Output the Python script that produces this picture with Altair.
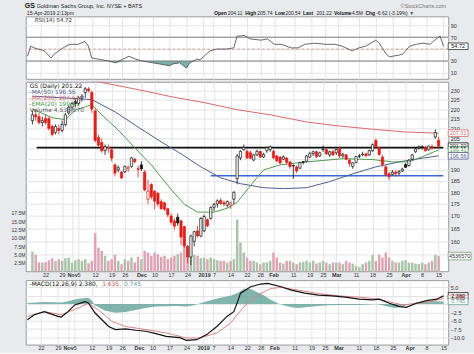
import altair as alt
import pandas as pd

FONT = "DejaVu Sans"
AFONT = "Liberation Sans"
W = 426
H_RSI, H_PRICE, H_MACD = 63, 191, 65

# ---------------- x axis (trading-day index) ----------------
tick_idx = [4, 9, 12, 14, 19, 24, 28, 33, 37, 42, 47, 52, 55, 60, 65, 69, 73, 79, 84, 88, 92, 98, 103, 108, 113, 118, 123]
tick_lbl = ["22", "29", "Nov", "5", "12", "19", "26", "Dec", "10", "17", "24", "2019", "7", "14", "22", "28",
            "Feb", "11", "19", "25", "Mar", "11", "18", "25", "Apr", "8", "15"]
bold_idx = [12, 33, 52, 73, 92, 113]

# ---------------- daily OHLC ----------------
opens = [214, 217, 216, 213, 215, 215, 211, 208, 210, 209,
         212, 218, 221, 224, 223, 226, 229, 231, 229, 219,
         205.5, 203, 199, 200, 199.5, 192.3, 190, 189, 189.2, 190.5,
         191.6, 195, 190.5, 192.3, 189, 177, 183.4, 180.4, 179.6, 176,
         175.5, 173, 170, 168, 169.5, 168, 165.7, 158, 154, 159.9,
         164, 162, 164, 168.5, 169, 173.6, 175, 176.5, 175.5, 174.5,
         174.5, 177, 186, 195.6, 199.5, 198.7, 198, 194.6, 197, 198.7,
         196, 199, 199.5, 198.7, 196.5, 196, 195, 195.5, 193.7, 192,
         191.4, 190.8, 193.8, 194, 196, 197.6, 198.5, 196.5, 199.5, 199.5,
         197, 198.5, 198, 200, 196.5, 197, 194.5, 191.5, 193.5, 196.5,
         197, 197.5, 197, 199, 204, 200.5, 196, 191.4, 188.2, 188,
         189, 188.5, 189.5, 192.5, 192, 195, 198.5, 200.5, 200.8, 200.5,
         199.5, 201, 205.7, 204.11]
highs = [219, 220, 218, 216, 217, 216, 212, 212, 212, 214,
         218, 222, 224, 226, 227, 228, 232, 232, 230, 220,
         207, 205, 202, 202, 200, 193, 192, 189.5, 192, 192,
         196, 195.5, 192, 194, 190, 185.5, 184, 181, 180, 177,
         176, 173.5, 171, 169, 171, 168.5, 166, 158.5, 162.5, 164,
         166, 169.5, 170.5, 169, 174, 175.5, 177, 177.5, 176.5, 176.5,
         176, 180.5, 197.5, 199.2, 202, 199.5, 199, 197.5, 199.5, 199,
         198, 201, 201.5, 199.5, 197, 196.5, 196.8, 196, 194, 192.5,
         192, 193.8, 194, 197, 198.5, 199, 199, 198.5, 201.5, 200.5,
         199, 199.5, 200, 201, 198, 197.5, 195, 193.5, 196.5, 197.5,
         198.5, 198, 199.5, 202.5, 205, 201, 197, 192, 189, 190,
         190, 190, 191, 193, 195, 197.5, 200.5, 201.5, 201.5, 201,
         201.5, 202, 209.5, 205.74]
lows = [212, 214, 212, 211, 212, 209, 206, 207, 207, 208,
        211, 217, 219, 221, 222, 224, 226, 229, 218, 203,
        201, 198, 197, 198, 194, 187, 189, 186, 188.5, 189,
        191, 193, 186.5, 189.5, 180.5, 175, 177, 172.8, 174, 172.5,
        172, 169.5, 166.5, 164.5, 166, 158.5, 157.5, 151.6, 151, 158,
        161.5, 161.5, 163.5, 165.5, 168.5, 172, 173.5, 174.5, 174, 173.5,
        173, 175, 183.5, 194.5, 199, 195, 195, 194, 196.5, 195.5,
        195.5, 198, 198.5, 195, 193.5, 192.5, 194.5, 192.5, 190.5, 186,
        188.5, 190.5, 192.5, 193.5, 195.5, 196.5, 195.5, 196, 198.5, 197,
        196, 196.5, 197, 195.5, 195.5, 194.5, 191.5, 190.5, 193, 195.5,
        196.5, 196, 196.5, 198.5, 200.5, 196.5, 191.5, 187.5, 185.3, 187.5,
        187, 187.5, 189, 190.8, 191.5, 194.5, 198, 199.5, 199.5, 198.5,
        199, 199.5, 204.8, 200.54]
closes = [217, 216, 213, 214, 213, 210, 207, 211, 209, 212,
          217, 221, 223, 223, 226, 227, 231, 230, 220, 204,
          201.7, 199, 201, 200.5, 195.4, 188.5, 191, 186.3, 191.6, 191.2,
          195.6, 193.8, 190.2, 190.5, 181, 180.5, 178, 176.2, 175, 173,
          172.8, 170.5, 167.5, 165.9, 167.2, 161.6, 158.2, 154, 162, 163.7,
          162, 169, 169.8, 166, 173.5, 174.8, 176.3, 175.2, 175, 176,
          175.5, 180, 196.5, 198.7, 200.6, 195.6, 195.4, 197, 198.7, 196,
          197.2, 200.5, 200.9, 195.6, 194.2, 193.2, 196.1, 193.5, 191.5, 191.8,
          189.5, 193.4, 193.5, 196.5, 197.6, 198.5, 196.2, 198, 199.7, 197.5,
          198.5, 197, 199.6, 196.5, 197.3, 195, 193, 193.2, 196.2, 196.4,
          197.3, 196.6, 199, 201.9, 201, 197.2, 192.5, 187.8, 186.9, 189,
          188.3, 189.2, 190.3, 191.2, 194.5, 197, 199.9, 200.9, 201.1, 199,
          201.2, 200.3, 207.84, 201.22]
volumes_m = [5.9, 4.9, 2.6, 2.6, 2.7, 3.3, 3.9, 3.1, 3.6, 3.1,
             3.9, 4.1, 2.6, 3.3, 3.6, 3.1, 3.6, 2.4, 3.1, 11.4,
             7.1, 6.1, 4.6, 3.1, 3.6, 4.9, 3.1, 2.1, 3.6, 3.1,
             4.1, 2.6, 4.3, 3.6, 6.1, 5.6, 4.6, 5.6, 5.1, 4.3,
             4.6, 3.6, 4.1, 4.6, 5.1, 5.6, 8.3, 4.6, 6.6, 4.9,
             4.6, 3.9, 4.1, 3.6, 4.1, 3.6, 3.3, 3.1, 3.1, 2.6,
             3.1, 3.6, 15.5, 8.6, 5.6, 4.1, 3.1, 3.1, 2.6, 2.1,
             2.6, 2.6, 3.1, 5.6, 4.1, 2.6, 2.3, 3.1, 3.1, 2.6,
             2.1, 2.6, 2.8, 3.1, 2.6, 3.1, 2.3, 2.6, 3.1, 2.6,
             2.1, 2.6, 2.6, 2.6, 2.1, 3.1, 2.6, 2.3, 1.6, 1.3,
             2.1, 2.6, 3.1, 4.9, 3.1, 4.9, 4.1, 5.6, 4.1, 3.1,
             2.6, 2.6, 3.1, 3.3, 2.6, 2.6, 2.3, 2.1, 2.6, 2.1,
             2.6, 3.1, 4.9, 4.54]

# ---------------- overlays ----------------
ma50_i = [0, 10, 18, 25, 32, 39, 45, 51, 57, 63, 70, 76, 83, 90, 97, 104, 111, 117, 123]
ma50_v = [227.0, 226.0, 225.1, 218.6, 210.7, 203.3, 197.5, 191.4, 186.4, 183.8, 182.0, 181.6, 182.0,
          184.7, 188.2, 191.4, 193.7, 195.2, 196.56]
ma200_i = [0, 10, 20, 32, 42, 52, 62, 72, 83, 93, 103, 113, 123]
ma200_v = [240.0, 237.5, 235.0, 230.6, 226.7, 223.5, 219.7, 217.0, 213.3, 211.2, 209.6, 208.2, 207.61]
ema20_i = [0, 6, 10, 13, 18, 21, 26, 31, 36, 42, 46, 50, 55, 59, 62, 67, 70, 75, 83, 94, 103, 109, 114, 118, 123]
ema20_v = [220.0, 215.5, 214.5, 219.5, 222.4, 217.0, 209.2, 200.4, 192.3, 181.2, 174.9, 171.6, 171.6, 173.2,
           175.7, 184.7, 190.0, 192.3, 193.7, 195.2, 194.8, 193.7, 193.7, 196.1, 199.41]
trend_start = [1.3, 54.0]
trend_price = [200.5, 187.3]

rsi_i = [0, 1, 2, 5, 7, 8, 10, 12, 13, 15, 17, 18, 19, 21, 24, 26, 30, 32, 34, 37, 39, 42, 43, 45, 47, 48,
         50, 51, 53, 54, 56, 59, 61, 62, 63, 64, 66, 69, 71, 73, 75, 78, 80, 82, 85, 88, 91, 93, 96, 98,
         100, 103, 104, 106, 107, 110, 111, 113, 115, 117, 119, 120, 122, 123]
rsi_v = [38, 55, 52, 47, 35, 42, 50, 57, 58, 58, 63, 55, 35, 33, 30, 27, 38, 33, 30, 27, 25, 22, 25, 27, 18, 27,
         33, 32, 42, 47, 50, 50, 52, 72, 72, 73, 67, 65, 67, 58, 58, 52, 52, 58, 60, 58, 58, 55, 47, 52,
         55, 65, 60, 42, 37, 40, 42, 55, 58, 60, 58, 63, 72, 54.72]

macd_i = [0, 2, 5, 9, 10, 12, 14, 17, 18, 20, 22, 24, 26, 29, 32, 35, 38, 41, 45, 47, 50, 53, 56, 59, 61, 62,
          63, 66, 69, 71, 75, 78, 82, 86, 90, 94, 98, 102, 104, 107, 110, 112, 115, 118, 121, 123]
macd_v = [-4.7, -3.2, -2.3, -3.7, -3.9, -2.3, -0.3, 0.7, 0.3, -2.7, -4.7, -6.7, -7.6, -7.4, -7.8, -8.1, -8.8,
          -9.6, -10.0, -10.8, -10.6, -9.1, -6.7, -3.7, -2.3, 0.3, 3.2, 5.1, 5.9, 6.1, 5.1, 4.1, 3.2, 2.6, 2.4,
          2.0, 1.4, 1.2, 1.4, 0.2, -0.8, -1.0, 0.2, 1.0, 1.4, 2.38]
sig_i = [0, 5, 10, 15, 18, 21, 25, 29, 35, 41, 47, 51, 56, 60, 64, 68, 72, 75, 80, 86, 92, 98, 104, 107, 111,
         115, 119, 123]
sig_v = [-3.7, -2.3, -3.2, -1.2, 0.2, -1.8, -5.2, -6.7, -7.6, -8.6, -10.1, -10.1, -8.6, -5.7, -0.8, 2.6, 4.6,
         4.9, 4.1, 3.1, 2.4, 2.0, 1.4, 0.6, -0.3, 0.2, 0.6, 1.635]
hist_i = [0, 5, 10, 12, 15, 18, 19, 20, 23, 26, 29, 32, 35, 38, 41, 44, 47, 49, 51, 54, 57, 60, 62, 64, 66, 68,
          70, 72, 74, 76, 78, 80, 83, 86, 89, 92, 95, 98, 101, 103, 105, 107, 109, 111, 113, 115, 118, 121, 123]
hist_v = [0.3, 0.6, 0.4, 0.8, 1.5, 1.8, 1.0, -0.5, -2.0, -2.6, -2.4, -1.8, -1.2, -0.8, -0.7, -0.6, -0.8, -0.5,
          0.2, 1.0, 1.8, 2.4, 3.2, 4.5, 4.4, 3.5, 2.5, 1.2, 0.2, -0.5, -1.0, -1.2, -0.9, -0.6, -0.4, -0.3,
          -0.3, -0.3, -0.2, 0.0, -0.4, -0.9, -1.2, -0.8, -0.1, 0.4, 0.7, 0.8, 0.745]

price_ticks = [155, 160, 165, 170, 175, 180, 185, 190, 195, 200, 205, 210, 215, 220, 225, 230]
price_hidden = [155, 195, 200]          # labels covered by the value boxes in the original
vol_ticks = [2.5, 5, 7.5, 10, 12.5, 15, 17.5]
rsi_ticks = [10, 30, 50, 70, 90]
rsi_hidden = [50]
macd_ticks = [5, 2.5, 0, -2.5, -5, -7.5, -10]
macd_hidden = [2.5, 0]

header_pairs = [("Open", "204.11"), ("High", "205.74"), ("Low", "200.54"), ("Last", "201.22"),
                ("Volume", "4.5M"), ("Chg", "-6.62 (-3.19%)")]

# ---------------- styles ----------------
RED = "#e0201b"
BLK = "#111111"
MA50_C = "#4f5b93"
MA200_C = "#d46a6a"
EMA_C = "#4f9a4f"
VOL_UP = "#a9c4a9"
VOL_DN = "#dea3b4"
TEAL = "#5f9f96"
SIG_C = "#d98585"
GRID = "#e4e4e4"
BOX = "M-1,-0.33L1,-0.33L1,0.33L-1,0.33Z"

prev = [closes[0]] + closes[:-1]
cdf = pd.DataFrame({"i": list(range(len(closes))), "o": opens, "h": highs, "l": lows,
                    "c": closes, "vol": volumes_m})
cdf["col"] = [RED if c < p else BLK for c, p in zip(closes, prev)]
cdf["fillc"] = ["#ffffff" if c > o else col for c, o, col in zip(closes, opens, cdf["col"])]
cdf["vcol"] = [VOL_DN if c < p else VOL_UP for c, p in zip(closes, prev)]

xs = alt.Scale(domain=[-0.5, 124.4], nice=False, zero=False)
lbl_expr = "[" + ",".join("'%s'" % t for t in tick_lbl) + "][indexof([" + ",".join(map(str, tick_idx)) + "], datum.value)]"
bold_expr = "indexof([" + ",".join(map(str, bold_idx)) + "], datum.value) >= 0 ? 'bold' : 'normal'"

X_LAB = alt.Axis(values=tick_idx, labelExpr=lbl_expr, labelFontWeight={"expr": bold_expr},
                 grid=True, gridColor=GRID, domain=False, ticks=False, labelPadding=1, minExtent=0,
                 labelFontSize=5.5, labelFont=AFONT, labelOverlap=False, labelFlush=False, title=None)
X_GRID = alt.Axis(values=tick_idx, labels=False, grid=True, gridColor=GRID, domain=False,
                  ticks=False, title=None, minExtent=0, maxExtent=0, labelPadding=0)


def right_axis(vals, hidden, fmt):
    expr = "indexof([" + ",".join(map(str, hidden)) + "], datum.value) >= 0 ? '' : format(datum.value, '" + fmt + "')"
    return alt.Axis(values=vals, orient="right", grid=True, gridColor=GRID, domain=False, ticks=False,
                    labelPadding=2, labelFontSize=5.5, labelFont=AFONT, title=None, labelExpr=expr,
                    labelOverlap=False, labelFlush=False)


def tw(s, size, bold=False):
    w = 0.0
    for ch in s:
        if ch.isdigit():
            w += 0.556
        elif ch in ".,: il":
            w += 0.278
        elif ch in "()-":
            w += 0.333
        elif ch == "%":
            w += 0.889
        elif ch in "MW":
            w += 0.86
        elif ch.isupper():
            w += 0.68
        else:
            w += 0.54
    return w * size * (1.08 if bold else 1.0)


def txt(s, x, y, color="#222222", size=6, weight="normal", align="left", font=FONT):
    return alt.Chart(pd.DataFrame({"t": [s]})).mark_text(
        align=align, baseline="middle", font=font, fontSize=size, fontWeight=weight, color=color
    ).encode(x=alt.value(x), y=alt.value(y), text="t:N")


def boxes(vals, labels, strokes, textcols, fills, yscale, yaxis, width=20):
    df = pd.DataFrame({"v": vals, "t": labels, "s": strokes, "tc": textcols, "f": fills})
    cx = W + width / 2
    rect = alt.Chart(df).mark_point(shape=BOX, size=width * width, filled=True, strokeWidth=0.8,
                                    opacity=1, fillOpacity=1).encode(
        x=alt.value(cx), y=alt.Y("v:Q", scale=yscale, axis=yaxis),
        fill=alt.Fill("f:N", scale=None), stroke=alt.Stroke("s:N", scale=None))
    lab = alt.Chart(df).mark_text(font=AFONT, fontSize=5.5, align="center", baseline="middle").encode(
        x=alt.value(cx), y=alt.Y("v:Q", scale=yscale, axis=yaxis), text="t:N",
        color=alt.Color("tc:N", scale=None))
    return [rect, lab]


# ---------------- RSI panel ----------------
ys_rsi = alt.Scale(domain=[0, 105], nice=False, zero=False)
Y_RSI = right_axis(rsi_ticks, rsi_hidden, "d")
rdf = pd.DataFrame({"i": rsi_i, "rsi": rsi_v})
rsi_fill = alt.Chart(rdf).transform_calculate(lo="min(datum.rsi, 30)").mark_area(
    color="#6fa9a1", opacity=0.9).encode(
    x=alt.X("i:Q", scale=xs, axis=X_GRID),
    y=alt.Y("lo:Q", scale=ys_rsi, axis=Y_RSI),
    y2=alt.datum(30))
rsi_lv = alt.Chart(pd.DataFrame({"lv": [70, 30]})).mark_rule(color="#808080", strokeWidth=1).encode(
    y=alt.Y("lv:Q", scale=ys_rsi, axis=Y_RSI))
rsi_mid = alt.Chart(pd.DataFrame({"lv": [50]})).mark_rule(color="#cf8f8f", strokeWidth=0.8,
                                                           strokeDash=[3, 2]).encode(
    y=alt.Y("lv:Q", scale=ys_rsi, axis=Y_RSI))
rsi_line = alt.Chart(rdf).mark_line(color="#555555", strokeWidth=0.9).encode(
    x=alt.X("i:Q", scale=xs, axis=X_GRID), y=alt.Y("rsi:Q", scale=ys_rsi, axis=Y_RSI))

HS = 5.0
header = [
    txt("GS", -1, -10, BLK, 7, "bold", font=AFONT),
    txt("Goldman Sachs Group, Inc.  NYSE + BATS", 11, -10, "#222222", 5.6, font=AFONT),
    txt("©StockCharts.com", 378, -10, "#777777", 5.5, font=AFONT),
    txt("15-Apr-2019 2:13pm", 1, -3, "#222222", 5.2, font=AFONT),
]
hx = 190.0
for lab, val in header_pairs:
    header.append(txt(lab, hx, -3, BLK, HS, "bold", font=AFONT))
    hx += tw(lab, HS, True) + 1.2
    header.append(txt(val, hx, -3, "#222222", HS, font=AFONT))
    hx += tw(val, HS) + 2.4
header.append(txt("▾", hx, -3, "#444444", 5.5, font=FONT))

rsi_box = boxes([54.72], ["54.72"], ["#333333"], ["#111111"], ["#ffffff"], ys_rsi, Y_RSI)
rsi_panel = alt.layer(rsi_fill, rsi_lv, rsi_mid, rsi_line,
                      txt("RSI(14) 54.72", 9, 4, "#333333", 5.5),
                      *rsi_box, *header).properties(width=W, height=H_RSI)

# ---------------- price panel ----------------
ys_vol = alt.Scale(domain=[0, 56.8], nice=False, zero=True)
Y_VOL = alt.Axis(values=vol_ticks, orient="left", labelExpr="format(datum.value, '.1f') + 'M'",
                 grid=False, domain=False, ticks=False, labelPadding=1, labelFontSize=5,
                 labelFont=AFONT, title=None, labelOverlap=False, labelFlush=False)
vol_bars = alt.Chart(cdf).mark_bar(size=2.5).encode(
    x=alt.X("i:Q", scale=xs, axis=X_LAB),
    y=alt.Y("vol:Q", scale=ys_vol, axis=Y_VOL, stack=None),
    y2=alt.datum(0),
    color=alt.Color("vcol:N", scale=None))
vol_box = boxes([4.54], ["4536570"], ["#7a9a7a"], ["#333333"], ["#ffffff"], ys_vol, Y_VOL, width=23)
vol_sub = alt.layer(vol_bars, *vol_box)

ys_p = alt.Scale(type="log", domain=[148.8, 235.0], nice=False, zero=False)
Y_P = right_axis(price_ticks, price_hidden, "d")
tl = pd.DataFrame({"x1": trend_start, "p": trend_price, "col": [BLK, "#3a68d4"]})
trend = alt.Chart(tl).mark_rule(strokeWidth=1.6).encode(
    x=alt.X("x1:Q", scale=xs, axis=X_LAB), x2=alt.datum(124.4),
    y=alt.Y("p:Q", scale=ys_p, axis=Y_P),
    color=alt.Color("col:N", scale=None))


def ma_line(ii, vv, color, width=1.0):
    return alt.Chart(pd.DataFrame({"i": ii, "v": vv})).mark_line(color=color, strokeWidth=width,
                                                                  clip=True).encode(
        x=alt.X("i:Q", scale=xs, axis=X_LAB), y=alt.Y("v:Q", scale=ys_p, axis=Y_P))


wicks = alt.Chart(cdf).mark_rule(strokeWidth=0.8).encode(
    x=alt.X("i:Q", scale=xs, axis=X_LAB), y=alt.Y("l:Q", scale=ys_p, axis=Y_P), y2="h:Q",
    color=alt.Color("col:N", scale=None))
bodies = alt.Chart(cdf).mark_bar(size=2.3, strokeWidth=0.7).encode(
    x=alt.X("i:Q", scale=xs, axis=X_LAB), y=alt.Y("o:Q", scale=ys_p, axis=Y_P, stack=None), y2="c:Q",
    fill=alt.Fill("fillc:N", scale=None), stroke=alt.Stroke("col:N", scale=None))
p_box = boxes([207.61, 201.22, 199.41, 196.56], ["207.61", "201.22", "199.41", "196.56"],
              [MA200_C, BLK, EMA_C, MA50_C], [MA200_C, BLK, EMA_C, MA50_C],
              ["#ffffff", "#ffffff", "#ffffff", "#ffffff"], ys_p, Y_P)
legend = [
    txt("GS (Daily) 201.22", 4, 4, BLK, 6),
    txt("–MA(50) 196.56", 3, 10, MA50_C, 6),
    txt("–MA(200) 207.61", 3, 16, MA200_C, 6),
    txt("–EMA(20) 199.41", 3, 22, EMA_C, 6),
    txt("Volume 4,536,570", 4, 28, "#555555", 6),
]
price_sub = alt.layer(trend, ma_line(ma200_i, ma200_v, MA200_C), ma_line(ma50_i, ma50_v, MA50_C),
                      ma_line(ema20_i, ema20_v, EMA_C), wicks, bodies, *p_box, *legend)
price_panel = alt.layer(vol_sub, price_sub).resolve_scale(y="independent").properties(width=W, height=H_PRICE)

# ---------------- MACD panel ----------------
ys_m = alt.Scale(domain=[-12.06, 7.06], nice=False, zero=False)
Y_M = right_axis(macd_ticks, macd_hidden, ".1f")
hist = alt.Chart(pd.DataFrame({"i": hist_i, "h": hist_v})).mark_area(color="#6aa79e", opacity=0.85).encode(
    x=alt.X("i:Q", scale=xs, axis=X_LAB),
    y=alt.Y("h:Q", scale=ys_m, axis=Y_M, stack=None), y2=alt.datum(0))
sig = alt.Chart(pd.DataFrame({"i": sig_i, "v": sig_v})).mark_line(color=SIG_C, strokeWidth=1).encode(
    x=alt.X("i:Q", scale=xs, axis=X_LAB), y=alt.Y("v:Q", scale=ys_m, axis=Y_M))
macd = alt.Chart(pd.DataFrame({"i": macd_i, "v": macd_v})).mark_line(color=BLK, strokeWidth=1.2).encode(
    x=alt.X("i:Q", scale=xs, axis=X_LAB), y=alt.Y("v:Q", scale=ys_m, axis=Y_M))
m_box = boxes([2.38, 1.635, 0.745], ["2.380", "1.635", "0.745"], [BLK, SIG_C, TEAL],
              [BLK, "#c04040", TEAL], ["#ffffff", "#ffffff", "#ffffff"], ys_m, Y_M)
m_leg = [
    txt("–MACD(12,26,9) 2.380,", 3, 4, BLK, 6),
    txt("1.635,", 77, 4, "#c85a5a", 6),
    txt("0.745", 99, 4, TEAL, 6),
]
macd_panel = alt.layer(hist, sig, macd, *m_box, *m_leg).properties(width=W, height=H_MACD)

chart = alt.vconcat(
    rsi_panel,
    alt.vconcat(price_panel, macd_panel, spacing=1),
    spacing=1,
).properties(
    background="#e8eaee",
    padding={"left": 10, "top": 0, "right": 0, "bottom": 0},
).configure_view(
    stroke="#999999", strokeWidth=1, fill="#ffffff"
).configure_axis(
    labelFont=AFONT, labelColor="#333333"
)

chart.save("out.html", embed_options={"renderer": "svg", "actions": False})
